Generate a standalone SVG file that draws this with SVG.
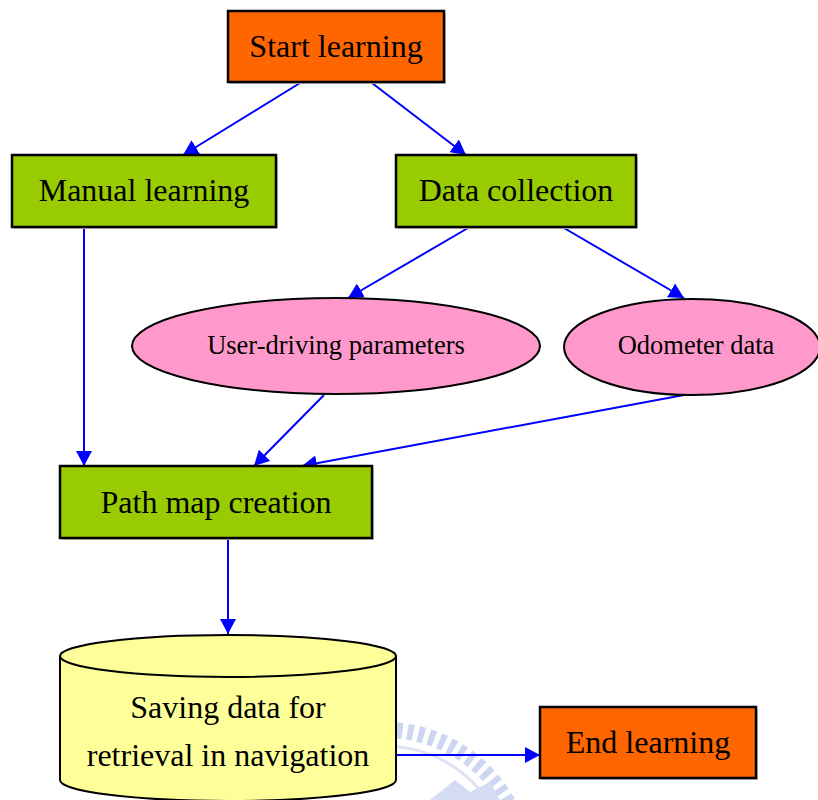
<svg xmlns="http://www.w3.org/2000/svg" width="818" height="800" viewBox="0 0 818 800">
  <style>
    .box { stroke: #000; stroke-width: 2.5; }
    .shadow { fill: #c8c8c8; }
    .orange { fill: #ff6600; }
    .green { fill: #99cc00; }
    .pink { fill: #ff99cc; stroke: #000; stroke-width: 2; }
    .drum { fill: #ffff99; stroke: #000; stroke-width: 2; }
    .label { font-family: "Liberation Serif", "Times New Roman", serif; font-size: 32px; fill: #000; text-anchor: middle; }
    .small { font-size: 26.5px; }
    .edge { stroke: #0000ff; stroke-width: 2; fill: none; marker-end: url(#head); }
  </style>
  <defs>
    <marker id="head" markerUnits="userSpaceOnUse" markerWidth="16" markerHeight="16" refX="15" refY="8" orient="auto">
      <path d="M0,0 L15,8 L0,16 Z" fill="#0000ff"/>
    </marker>
  </defs>
  <rect width="818" height="800" fill="#fff"/>

  <!-- faint seal in the lower area -->
  <g id="seal" opacity="0.45">
    <circle cx="385" cy="870" r="140" fill="none" stroke="#8fa6e0" stroke-width="16" stroke-dasharray="6 5"/>
    <circle cx="385" cy="870" r="124" fill="none" stroke="#b8c4e8" stroke-width="3"/>
    <path d="M430,800 L455,780 L470,792 L490,782 L500,800 Z" fill="#9fb2e4"/>
  </g>

  <g id="connectors">
    <line class="edge" x1="300" y1="83" x2="183" y2="155"/>
    <line class="edge" x1="372" y1="83" x2="466" y2="155"/>
    <line class="edge" x1="84" y1="228" x2="84" y2="466"/>
    <line class="edge" x1="468" y1="228" x2="348" y2="298"/>
    <line class="edge" x1="564" y1="228" x2="684" y2="298"/>
    <line class="edge" x1="324" y1="395" x2="254" y2="466"/>
    <line class="edge" x1="684" y1="395" x2="302" y2="466"/>
    <line class="edge" x1="228" y1="539" x2="228" y2="634"/>
    <line class="edge" x1="397" y1="755" x2="540" y2="755"/>
  </g>

  <g id="start-learning">
    <rect class="shadow" x="230" y="13" width="216" height="71"/>
    <rect class="box orange" x="228" y="11" width="216" height="71"/>
    <text class="label" x="336" y="57">Start learning</text>
  </g>

  <g id="manual-learning">
    <rect class="shadow" x="14" y="157" width="264" height="72"/>
    <rect class="box green" x="12" y="155" width="264" height="72"/>
    <text class="label" x="144" y="201">Manual learning</text>
  </g>

  <g id="data-collection">
    <rect class="shadow" x="398" y="157" width="240" height="72"/>
    <rect class="box green" x="396" y="155" width="240" height="72"/>
    <text class="label" x="516" y="201">Data collection</text>
  </g>

  <g id="user-driving-parameters">
    <ellipse class="pink" cx="336" cy="346" rx="204" ry="48"/>
    <text class="label small" x="336" y="354">User-driving parameters</text>
  </g>

  <g id="odometer-data">
    <ellipse class="pink" cx="692" cy="347" rx="128" ry="48"/>
    <text class="label small" x="696" y="354">Odometer data</text>
  </g>

  <g id="path-map-creation">
    <rect class="shadow" x="62" y="468" width="312" height="72"/>
    <rect class="box green" x="60" y="466" width="312" height="72"/>
    <text class="label" x="216" y="513">Path map creation</text>
  </g>

  <g id="saving-data">
    <path class="drum" d="M60,656 A168,21 0 0 1 396,656 L396,780 A168,21 0 0 1 60,780 Z"/>
    <path class="drum" d="M60,656 A168,21 0 0 0 396,656" fill="none"/>
    <text class="label" x="228" y="718">Saving data for</text>
    <text class="label" x="228" y="766">retrieval in navigation</text>
  </g>

  <g id="end-learning">
    <rect class="shadow" x="542" y="709" width="216" height="71"/>
    <rect class="box orange" x="540" y="707" width="216" height="71"/>
    <text class="label" x="648" y="753">End learning</text>
  </g>
</svg>
